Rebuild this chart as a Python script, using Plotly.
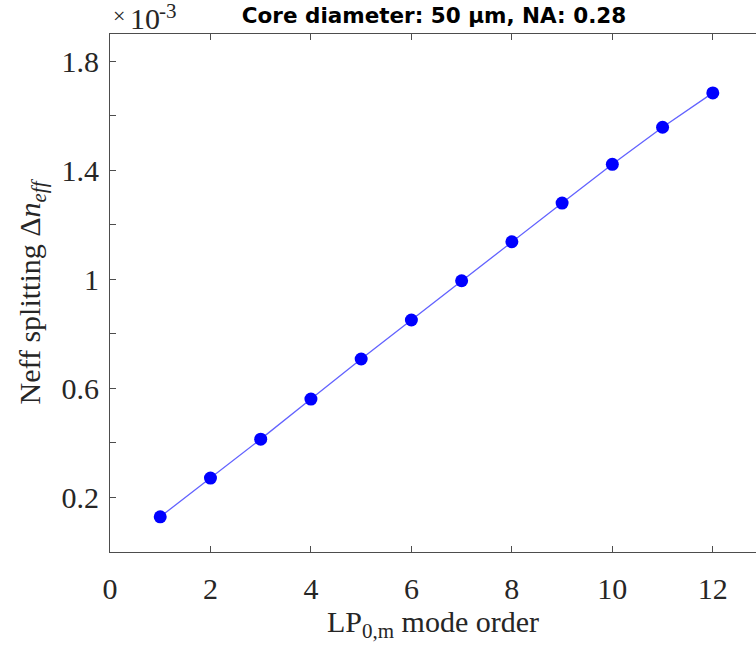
import plotly.graph_objects as go

# LP0,m mode order and effective-index splitting (in units of 1e-3)
mode_order = [1, 2, 3, 4, 5, 6, 7, 8, 9, 10, 11, 12]
neff_split_e3 = [0.129, 0.271, 0.414, 0.561, 0.708, 0.851,
                 0.995, 1.138, 1.280, 1.422, 1.558, 1.684]

x_ticks = [0, 2, 4, 6, 8, 10, 12]
y_ticks = [0.2, 0.4, 0.6, 0.8, 1.0, 1.2, 1.4, 1.6, 1.8]
y_tick_text = ["0.2", "", "0.6", "", "1", "", "1.4", "", "1.8"]

serif = "Liberation Serif, Times New Roman, serif"
axis_col = "#4d4d4d"
text_col = "#262626"

fig = go.Figure()
fig.add_trace(go.Scatter(
    x=mode_order, y=neff_split_e3,
    mode="lines",
    line=dict(color="rgba(70,70,255,0.85)", width=1.3),
    showlegend=False, hoverinfo="skip",
))
fig.add_trace(go.Scatter(
    x=mode_order, y=neff_split_e3,
    mode="markers",
    marker=dict(color="#0000ff", size=13, line=dict(width=0)),
    showlegend=False,
))


def exp_part(text, size, xpix, ymid):
    """Piece of the axis exponent label, placed in pixels from the plot's top-left."""
    return dict(
        text=text, xref="paper", yref="paper", x=0, y=1,
        xanchor="left", yanchor="middle",
        xshift=xpix, yshift=ymid,
        showarrow=False, borderpad=0,
        font=dict(family=serif, size=size, color=text_col),
    )


fig.update_layout(
    width=756, height=645,
    margin=dict(l=110, r=0, t=34, b=93),
    paper_bgcolor="white", plot_bgcolor="white",
    title=dict(
        text="<b>Core diameter: 50 μm, NA: 0.28</b>",
        font=dict(family="DejaVu Sans, sans-serif", size=21.5, color="black"),
        x=434 / 756, xanchor="center",
        y=1 - 15 / 645, yanchor="middle", yref="container", xref="container",
    ),
    xaxis=dict(
        range=[0, 12.86],
        tickmode="array", tickvals=x_ticks,
        ticks="inside", ticklen=6, tickwidth=1, tickcolor=axis_col,
        showline=True, linecolor=axis_col, linewidth=1, mirror="ticks",
        showgrid=False, zeroline=False,
        tickfont=dict(family=serif, size=30, color=text_col),
        ticklabelstandoff=10,
        title=dict(text="LP<sub>0,m</sub> mode order",
                   font=dict(family=serif, size=30, color=text_col),
                   standoff=5),
    ),
    yaxis=dict(
        range=[0, 1.9],
        tickmode="array", tickvals=y_ticks, ticktext=y_tick_text,
        ticks="inside", ticklen=6, tickwidth=1, tickcolor=axis_col,
        showline=True, linecolor=axis_col, linewidth=1, mirror=False,
        showgrid=False, zeroline=False,
        tickfont=dict(family=serif, size=30, color=text_col),
        ticklabelstandoff=4,
        title=dict(text="Neff splitting Δ<i>n</i><sub><i>eff</i></sub>",
                   font=dict(family=serif, size=30, color=text_col),
                   standoff=12),
    ),
    annotations=[
        exp_part("×", 22, 2, 19),
        exp_part("10", 30, 19, 16),
        exp_part("-3", 21, 48, 23),
    ],
)

fig.write_html("out.html")
